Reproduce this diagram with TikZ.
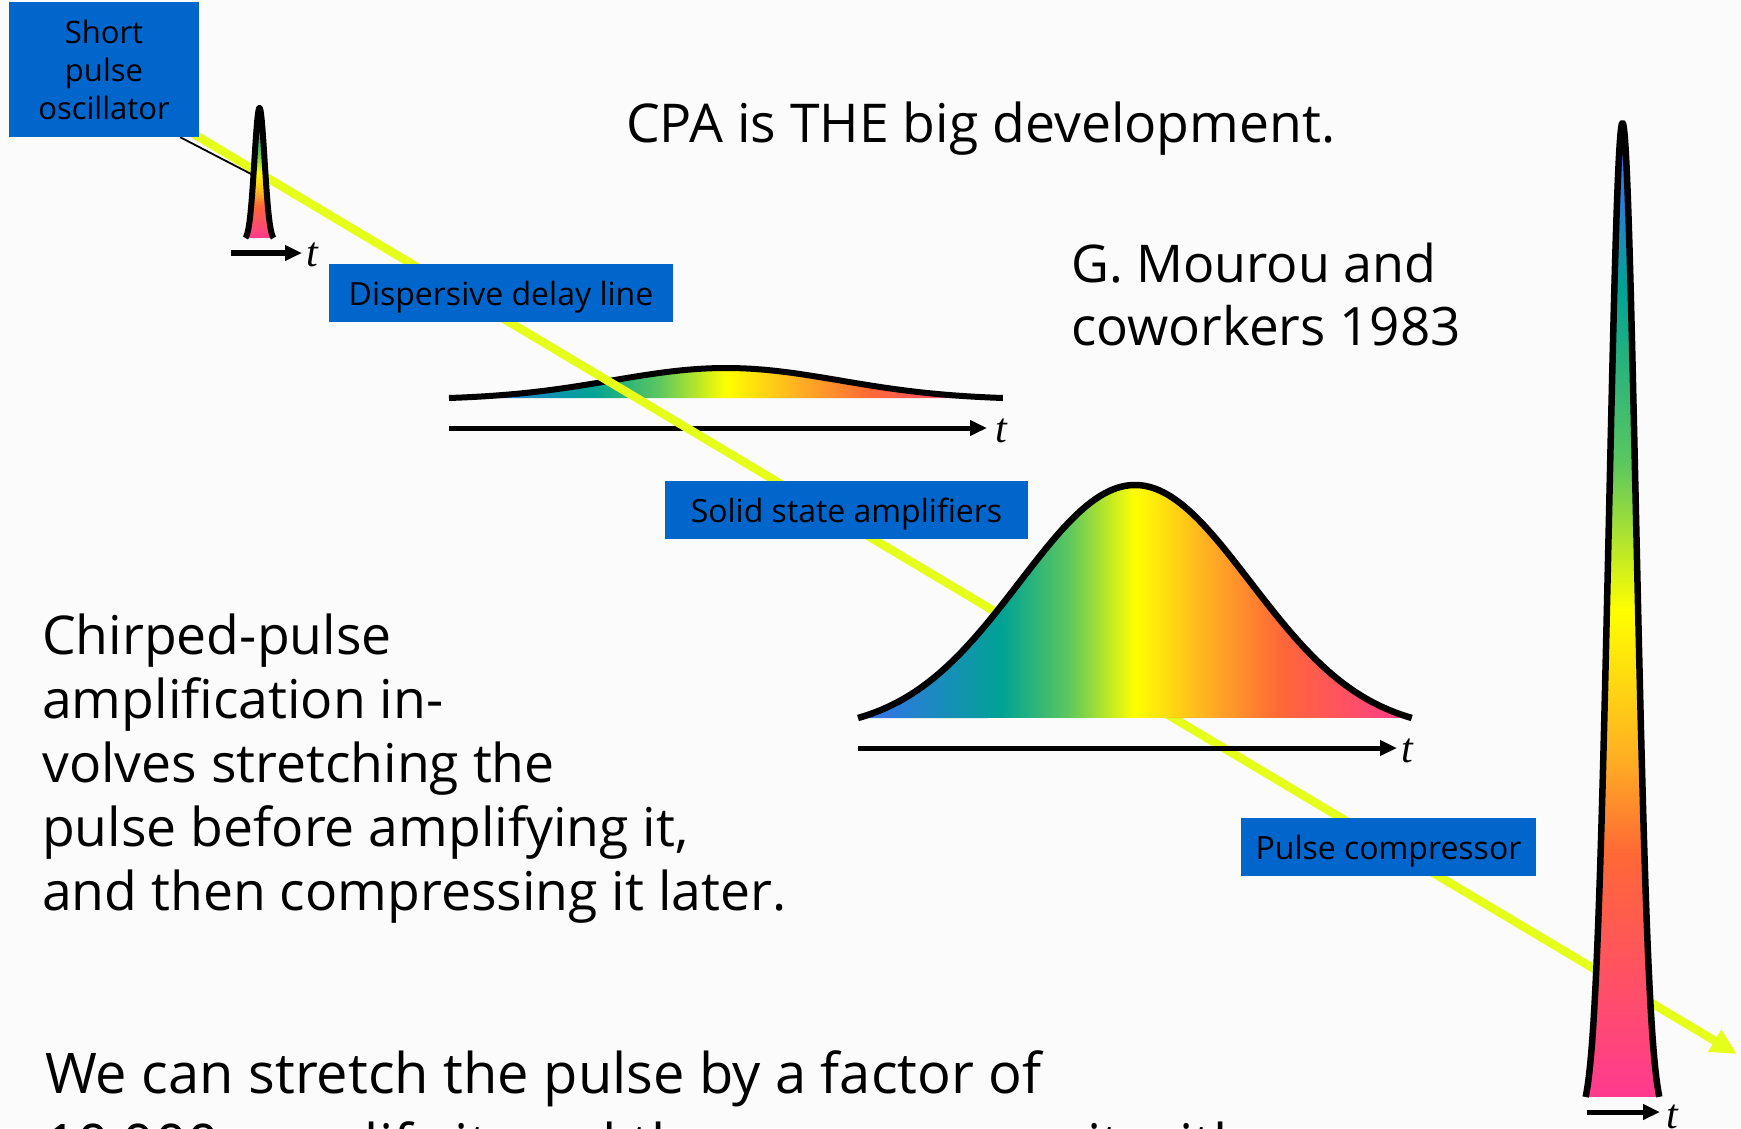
\documentclass[tikz,border=0pt]{standalone}
\usepackage{fontspec}
\setmainfont{Open Sans}
\newfontfamily\tfont{Liberation Serif}
\usetikzlibrary{arrows.meta,calc}

\definecolor{slidebg}{HTML}{FBFBFB}
\definecolor{boxblue}{HTML}{0066CC}
\definecolor{beamyellow}{HTML}{E6FF1A}
\definecolor{cblue}{HTML}{3A6EF2}
\definecolor{cteal}{HTML}{00A394}
\definecolor{cgreen}{HTML}{5CC75E}
\definecolor{cyel}{HTML}{FFFF00}
\definecolor{corange}{HTML}{FFB022}
\definecolor{cred}{HTML}{FF6836}
\definecolor{cpink}{HTML}{FF3A90}

% chirp colours: blue (leading edge) to pink (trailing edge)
\pgfdeclarehorizontalshading{chirpH}{100bp}{color(0bp)=(cblue); color(25bp)=(cblue); color(38bp)=(cteal); color(44bp)=(cgreen); color(50bp)=(cyel); color(56.5bp)=(corange); color(63bp)=(cred); color(75bp)=(cpink); color(100bp)=(cpink)}
\pgfdeclareverticalshading{chirpV}{100bp}{color(0bp)=(cpink); color(25bp)=(cpink); color(37.5bp)=(cred); color(42.5bp)=(corange); color(50bp)=(cyel); color(57.5bp)=(cgreen); color(66.5bp)=(cteal); color(73bp)=(cblue); color(100bp)=(cblue)}

\pgfdeclarelayer{back}
\pgfsetlayers{back,main}

% Gaussian pulse: centre x, base y, sigma, height, half-range in sigma
\newcommand{\gausscurve}[5]{plot[domain=-#5:#5, samples=181] ({#1+#3*\x},{#2-#4*(exp(-0.5*(\x)*(\x))-exp(-0.5*#5*#5))/(1-exp(-0.5*#5*#5))})}
\newcommand{\slidefont}[1]{\fontsize{#1}{#1}\selectfont}

\begin{document}
\begin{tikzpicture}[x=1pt,y=-1pt,
  stage/.style={fill=boxblue, inner sep=0pt, text=black, text height=24pt, text depth=0pt, font=\slidefont{32}},
  beam/.style={draw=beamyellow, line width=8.5pt, -{Triangle[length=26pt,width=24pt]}},
  pulseline/.style={draw=black, line width=6.5pt, line join=round},
  taxis/.style={draw=black, line width=5pt, -{Triangle[length=17pt,width=15pt]}},
  tlabel/.style={font=\tfont\itshape\slidefont{42}, anchor=base west, inner sep=0pt},
  slidetext/.style={anchor=base west, inner sep=0pt, text=black}]
\useasboundingbox (0,0) rectangle (1741,1128);

% stage labels
\node[stage, minimum width=190pt, minimum height=135pt, align=center, text height=, text depth=, font=\fontsize{31}{38}\selectfont] (osc) at (104,69.5) {Short\\pulse\\oscillator};
\node[stage, minimum width=344pt, minimum height=58pt] (disp) at (501,293) {Dispersive delay line};
\node[stage, minimum width=363pt, minimum height=58pt] (amp) at (846.5,510) {Solid state amplifiers};
\node[stage, minimum width=295pt, minimum height=58pt] (comp) at (1388.5,847) {Pulse compressor};

\coordinate (beamend) at (1737,1054);
\coordinate (tap) at (253,175);

\begin{pgfonlayer}{back}
  \fill[slidebg] (0,0) rectangle (1741,1128);
  % stretched pulse after the delay line
  \shade[shading=chirpH] \gausscurve{726}{398}{114}{30}{2.43} -- cycle;
  \draw[pulseline, line width=6pt] \gausscurve{726}{398}{114}{30}{2.43};
  \draw[taxis] (449,428) -- (987,428);
  \node[tlabel] (t2) at (995,442) {t};
  % beam path through the system
  \coordinate (beamstart) at ($(osc.south east)!-40pt!(beamend)$);
  \draw[beam] (beamstart) -- (beamend);
  \draw[line width=1.8pt] ([xshift=-19pt]osc.south east) -- (tap);
\end{pgfonlayer}

% short input pulse
\shade[shading=chirpV] \gausscurve{259.5}{238}{5.1}{130}{2.75} -- cycle;
\draw[pulseline, line width=6pt] \gausscurve{259.5}{238}{5.1}{130}{2.75};
\draw[taxis, line width=5.5pt] (231,253) -- (302,253);
\node[tlabel] (t1) at (306,266) {t};

% amplified stretched pulse
\shade[shading=chirpH] \gausscurve{1135}{718}{115.4}{233}{2.4} -- cycle;
\draw[pulseline] \gausscurve{1135}{718}{115.4}{233}{2.4};
\draw[taxis] (858,748) -- (1397,748);
\node[tlabel] (t3) at (1401,762) {t};

% compressed high-power pulse
\shade[shading=chirpV] \gausscurve{1622.5}{1097}{13.5}{974}{2.73} -- cycle;
\draw[pulseline, line width=6.5pt] \gausscurve{1622.5}{1097}{13.5}{974}{2.73};
\draw[taxis] (1587,1112) -- (1660,1112);
\node[tlabel] (t4) at (1666,1128) {t};

% slide text
\node[slidetext, font=\slidefont{53.5}] (title) at (626,142) {CPA is THE big development.};
\node[slidetext, font=\slidefont{52}] (ref1) at (1071,282) {G. Mourou and};
\node[slidetext, font=\slidefont{53}] (ref2) at (1071,345) {coworkers 1983};

\node[slidetext, font=\slidefont{53.5}] (p1) at (42,654) {Chirped-pulse};
\node[slidetext, font=\slidefont{53.5}] (p2) at (42,718) {amplification in-};
\node[slidetext, font=\slidefont{53.5}] (p3) at (42,782) {volves stretching the};
\node[slidetext, font=\slidefont{53.5}] (p4) at (42,846) {pulse before amplifying it,};
\node[slidetext, font=\slidefont{53.5}] (p5) at (42,910) {and then compressing it later.};

\node[slidetext, font=\slidefont{56}] (q1) at (45,1093) {We can stretch the pulse by a factor of};
\node[slidetext, font=\slidefont{56}] (q2) at (45,1164) {10,000, amplify it, and then recompress it with};
\end{tikzpicture}
\end{document}
